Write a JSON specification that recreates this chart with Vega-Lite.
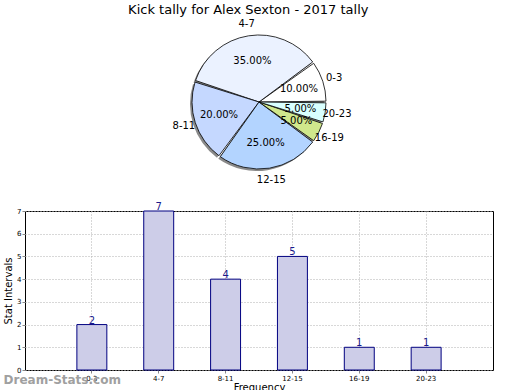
{
  "$schema": "https://vega.github.io/schema/vega-lite/v6.json",
  "padding": {"left": 3, "top": 3, "right": 0, "bottom": 0},
  "bounds": "flush",
  "spacing": 35,
  "config": {"font": "DejaVu Sans", "view": {"stroke": null}},
  "title": {"text": "Kick tally for Alex Sexton - 2017 tally", "fontSize": 13, "fontWeight": "normal", "anchor": "middle", "color": "#000", "offset": 2},
  "data": {"values": [
    {"i": 1, "cat": "0-3", "count": 2, "pct": 0.10},
    {"i": 2, "cat": "4-7", "count": 7, "pct": 0.35},
    {"i": 3, "cat": "8-11", "count": 4, "pct": 0.20},
    {"i": 4, "cat": "12-15", "count": 5, "pct": 0.25},
    {"i": 5, "cat": "16-19", "count": 1, "pct": 0.05},
    {"i": 6, "cat": "20-23", "count": 1, "pct": 0.05}
  ]},
  "vconcat": [
    {
      "width": 468,
      "height": 148,
      "encoding": {
        "theta": {"field": "count", "type": "quantitative", "stack": true, "scale": {"range": [1.5708, -4.7124]}},
        "order": {"field": "i", "type": "quantitative"}
      },
      "layer": [
        {
          "mark": {"type": "arc", "outerRadius": 67, "padAngle": 0.025, "fill": "#8a8a8a", "xOffset": -2, "yOffset": 2}
        },
        {
          "mark": {"type": "arc", "outerRadius": 67, "padAngle": 0.025, "stroke": "#000", "strokeWidth": 0.8},
          "encoding": {
            "color": {"field": "cat", "type": "nominal", "legend": null,
              "scale": {"domain": ["0-3", "4-7", "8-11", "12-15", "16-19", "20-23"],
                        "range": ["#ffffff", "#ebf2ff", "#c5d8ff", "#b3d4ff", "#d0e88c", "#d8ffff"]}}
          }
        },
        {
          "mark": {"type": "text", "radius": 42, "fontSize": 10, "color": "#000"},
          "encoding": {"text": {"field": "pct", "type": "quantitative", "format": ".2%"}}
        },
        {
          "mark": {"type": "text", "radius": 79, "fontSize": 10, "color": "#000"},
          "encoding": {"text": {"field": "cat", "type": "nominal"}}
        }
      ]
    },
    {
      "width": 468,
      "height": 159,
      "view": {"stroke": "#000", "strokeWidth": 1},
      "title": {"text": "Dream-Stats.com", "orient": "bottom", "anchor": "start", "dx": 0, "offset": -17, "color": "#a0a0a0", "fontSize": 12, "fontWeight": "bold"},
      "encoding": {
        "x": {"field": "cat", "type": "nominal", "sort": {"field": "i"},
          "scale": {"paddingInner": 0.552, "paddingOuter": 0.776},
          "axis": {"labelAngle": 0, "title": "Frequency", "grid": true, "gridDash": [1, 2], "gridColor": "#b0b0b0", "bandPosition": 0.5,
                   "labelFontSize": 7, "titleFontSize": 10, "titleFontWeight": "normal", "tickSize": 3, "tickColor": "#888", "domain": false, "labelPadding": 1, "titlePadding": 1, "labelColor": "#000", "titleColor": "#000"}},
        "y": {"field": "count", "type": "quantitative", "scale": {"domain": [0, 7], "nice": false},
          "axis": {"values": [0, 1, 2, 3, 4, 5, 6, 7], "title": "Stat Intervals", "grid": true, "gridDash": [1, 2], "gridColor": "#b0b0b0",
                   "labelFontSize": 7, "titleFontSize": 10, "titleFontWeight": "normal", "tickSize": 3, "tickColor": "#888", "domain": false, "labelPadding": 1, "titlePadding": 3, "labelColor": "#000", "titleColor": "#000"}}
      },
      "layer": [
        {"mark": {"type": "bar", "fill": "#cdcde8", "stroke": "#000080", "strokeWidth": 1}},
        {"mark": {"type": "text", "baseline": "bottom", "dy": 1, "fontSize": 10, "color": "#1a1a8c"},
         "encoding": {"text": {"field": "count", "type": "quantitative"}}}
      ]
    }
  ]
}
